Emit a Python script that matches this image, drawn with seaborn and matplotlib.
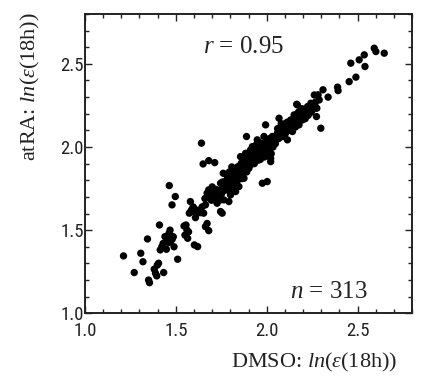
import numpy as np
import pandas as pd
import matplotlib
matplotlib.use('Agg')
import matplotlib.pyplot as plt
from matplotlib.ticker import MultipleLocator
from matplotlib import font_manager
import seaborn as sns

# ln(eps(18h)) per gene
dmso = [1.212, 1.271, 1.307, 1.319, 1.344, 1.350, 1.355, 1.381, 1.388, 1.405, 1.433, 1.410, 1.414, 1.423, 1.395, 1.398,
        1.440, 1.452, 1.460, 1.470, 1.475, 1.462, 1.468, 1.486, 1.490, 1.448, 1.430, 1.480, 1.455,
        1.510, 1.464, 1.479, 1.497,
        1.545, 1.556, 1.561, 1.565, 1.550, 1.570,
        1.574, 1.580, 1.585, 1.598, 1.617, 1.635, 1.653, 1.608, 1.602, 1.620, 1.595,
        1.641, 1.650, 1.681, 1.714,
        1.663, 1.681, 1.672,
        1.663, 1.672, 1.681, 1.700, 1.690, 1.718, 1.709, 1.737, 1.746, 1.727, 1.746, 1.755, 1.764, 1.792, 1.700, 1.685, 1.720, 1.695,
        1.746, 1.761, 1.779, 1.801, 1.773, 1.801, 1.820, 1.838, 1.820, 1.842, 1.860, 1.856, 1.884, 1.875, 1.893, 1.902, 1.889, 1.866,
        1.847, 1.875, 1.829, 1.801, 1.760, 1.785, 1.810, 1.830, 1.850, 1.790, 1.770, 1.815, 1.855, 1.868, 1.880, 1.840, 1.795, 1.808,
        1.911, 1.930, 1.921, 1.939, 1.958, 1.948, 1.967, 1.976, 1.994, 1.985, 2.004, 2.004, 2.022, 2.022, 2.031, 2.041, 1.976, 2.003,
        1.994, 2.022,
        1.905, 1.915, 1.925, 1.935, 1.945, 1.950, 1.960, 1.965, 1.970, 1.980, 1.990, 1.995, 2.000, 2.010, 2.012, 2.015, 2.025, 2.030,
        2.035, 2.045, 1.898, 1.912, 1.940, 1.955, 1.985, 2.008, 2.018, 1.928, 1.962, 1.990,
        2.059, 2.074, 2.068, 2.087, 2.096, 2.105, 2.114, 2.123, 2.133, 2.142, 2.151, 2.160, 2.169, 2.165, 2.178, 2.188, 2.197, 2.206,
        2.215, 2.225, 2.234, 2.243, 2.252, 2.262, 2.276, 2.274, 2.298, 2.289, 2.169,
        2.050, 2.055, 2.065, 2.070, 2.080, 2.085, 2.090, 2.100, 2.102, 2.110, 2.118, 2.125, 2.130, 2.138, 2.145, 2.150, 2.155, 2.162,
        2.172, 2.180, 2.185, 2.192, 2.200, 2.210, 2.220, 2.230, 2.240, 2.248, 2.258, 2.268, 2.075, 2.095, 2.115, 2.135, 2.158, 2.175,
        2.195, 2.212, 2.228, 2.245, 2.060, 2.080, 2.108,
        2.283, 2.310, 2.338, 2.390, 2.393, 2.454, 2.491, 2.463, 2.509, 2.537, 2.541, 2.592, 2.601, 2.647,
        1.820, 1.835, 1.845, 1.858, 1.862, 1.872, 1.885, 1.890, 1.895, 1.908, 1.918, 1.932, 1.942, 1.952, 1.968, 1.978, 1.988, 1.998,
        2.006, 2.016, 2.028, 2.038, 2.048, 2.058, 2.068, 2.078, 2.088, 2.098, 2.108, 2.118, 2.128, 2.140, 2.148, 2.168, 2.182, 2.202,
        2.218, 2.238, 2.255, 2.265,
        1.600, 1.625, 1.645, 1.660, 1.675, 1.705, 1.715, 1.730, 1.740, 1.752, 1.758, 1.768, 1.782, 1.790, 1.798, 1.812, 1.825, 1.832,
        1.848, 1.865, 1.878, 1.892, 1.902, 1.915, 1.925, 1.938]

atra = [1.345, 1.245, 1.361, 1.310, 1.447, 1.200, 1.184, 1.265, 1.241, 1.301, 1.245, 1.531, 1.381, 1.401, 1.225, 1.290,
        1.461, 1.440, 1.425, 1.431, 1.465, 1.480, 1.500, 1.460, 1.400, 1.385, 1.420, 1.445, 1.455,
        1.325, 1.768, 1.652, 1.702,
        1.525, 1.531, 1.501, 1.451, 1.470, 1.490,
        1.602, 1.672, 1.620, 1.611, 1.602, 1.605, 1.602, 1.575, 1.411, 1.401, 1.640,
        2.023, 1.898, 1.918, 1.906,
        1.521, 1.497, 1.540,
        1.652, 1.722, 1.742, 1.742, 1.702, 1.722, 1.682, 1.702, 1.682, 1.662, 1.612, 1.602, 1.682, 1.672, 1.760, 1.720, 1.745, 1.680,
        1.782, 1.842, 1.832, 1.842, 1.792, 1.782, 1.762, 1.822, 1.862, 1.882, 1.902, 1.942, 1.962, 1.902, 1.926, 1.872, 2.063, 1.832,
        1.762, 1.812, 1.732, 1.712, 1.760, 1.810, 1.800, 1.840, 1.860, 1.770, 1.740, 1.830, 1.880, 1.870, 1.930, 1.800, 1.850, 1.880,
        1.982, 1.942, 2.002, 1.972, 2.002, 2.043, 1.952, 2.022, 1.992, 2.063, 2.043, 1.972, 1.932, 2.002, 2.063, 2.022, 1.782, 1.792,
        2.133, 1.912,
        1.940, 1.910, 1.960, 1.925, 1.990, 1.950, 1.970, 1.925, 1.990, 1.960, 2.020, 1.950, 2.000, 2.020, 1.980, 2.050, 1.960, 2.030,
        2.000, 2.050, 1.900, 1.955, 2.010, 1.980, 2.000, 1.955, 2.030, 1.990, 2.025, 1.975,
        2.083, 2.113, 2.173, 2.063, 2.093, 2.143, 2.043, 2.123, 2.163, 2.093, 2.193, 2.143, 2.173, 2.257, 2.133, 2.203, 2.163, 2.223,
        2.183, 2.243, 2.203, 2.263, 2.223, 2.313, 2.233, 2.183, 2.113, 2.283, 2.253,
        2.040, 2.070, 2.050, 2.090, 2.080, 2.110, 2.070, 2.110, 2.080, 2.120, 2.100, 2.150, 2.110, 2.140, 2.160, 2.130, 2.170, 2.190,
        2.150, 2.180, 2.160, 2.200, 2.190, 2.200, 2.220, 2.230, 2.240, 2.250, 2.260, 2.270, 2.060, 2.130, 2.150, 2.120, 2.120, 2.210,
        2.230, 2.170, 2.190, 2.210, 2.110, 2.140, 2.090,
        2.314, 2.344, 2.300, 2.360, 2.339, 2.393, 2.420, 2.504, 2.524, 2.554, 2.484, 2.594, 2.574, 2.564,
        1.790, 1.770, 1.830, 1.840, 1.810, 1.860, 1.880, 1.850, 1.920, 1.890, 1.930, 1.900, 1.950, 1.920, 1.940, 1.990, 1.940, 2.010,
        1.990, 2.000, 2.010, 2.040, 2.020, 2.060, 2.080, 2.100, 2.090, 2.070, 2.130, 2.130, 2.140, 2.110, 2.150, 2.160, 2.200, 2.210,
        2.200, 2.220, 2.240, 2.250,
        1.630, 1.620, 1.640, 1.690, 1.700, 1.710, 1.690, 1.720, 1.740, 1.720, 1.790, 1.770, 1.760, 1.800, 1.730, 1.760, 1.810, 1.790,
        1.850, 1.890, 1.890, 1.900, 1.920, 1.940, 1.900, 1.960]

x_ticks = [1.0, 1.5, 2.0, 2.5]
y_ticks = [1.0, 1.5, 2.0, 2.5]
r_text = '$r$ = 0.95'
n_text = '$n$ = 313'

df = pd.DataFrame({'DMSO': dmso, 'atRA': atra})

sns.set_style('ticks')
plt.rcParams['mathtext.fontset'] = 'custom'
plt.rcParams['mathtext.rm'] = 'Liberation Serif'
plt.rcParams['mathtext.it'] = 'Liberation Serif:italic'

# narrow sans for the tick numbers if there is one, else Liberation Sans
names = set(f.name for f in font_manager.fontManager.ttflist)
tick_font = 'Liberation Sans'
for cand in ['Liberation Sans Narrow', 'DejaVu Sans Condensed', 'Roboto Condensed', 'Open Sans Condensed']:
    if cand in names:
        tick_font = cand
        break
cond = [f for f in font_manager.fontManager.ttflist if f.name == 'DejaVu Sans' and f.stretch == 'condensed']
tick_stretch = 'normal'
if tick_font == 'Liberation Sans' and cond:
    tick_font = 'DejaVu Sans'
    tick_stretch = 'condensed'

fig = plt.figure(figsize=(4.22, 3.77), dpi=100)
ax = fig.add_axes([0.2014, 0.169, 0.775, 0.794])

sns.scatterplot(x='DMSO', y='atRA', data=df, color='black', s=28, edgecolor='none', ax=ax, legend=False)

ax.set_xlim(1.0, 2.8)
ax.set_ylim(1.0, 2.8)
ax.set_xticks(x_ticks)
ax.set_yticks(y_ticks)
ax.xaxis.set_minor_locator(MultipleLocator(0.1))
ax.yaxis.set_minor_locator(MultipleLocator(0.1))
ax.tick_params(which='both', direction='in', top=True, right=True, color='#222222', width=1.0)
ax.tick_params(which='major', length=5)
ax.tick_params(which='minor', length=3)
ax.tick_params(axis='x', pad=6)
ax.tick_params(axis='y', pad=1)
for lab in ax.get_xticklabels() + ax.get_yticklabels():
    lab.set_fontfamily(tick_font)
    lab.set_fontstretch(tick_stretch)
    lab.set_fontsize(13.5)
    lab.set_color('#222222')
for sp in ax.spines.values():
    sp.set_linewidth(1.4)
    sp.set_color('#222222')

ax.set_xlabel('DMSO: $ln$($\\varepsilon$(18h))', fontfamily='Liberation Serif', fontsize=16,
              ha='right', color='#222222')
ax.xaxis.set_label_coords(0.955, -0.125)
ax.set_ylabel('atRA: $ln$($\\varepsilon$(18h))', fontfamily='Liberation Serif', fontsize=16,
              loc='top', color='#222222')
ax.yaxis.set_label_coords(-0.13, 1.005)

ax.text(1.87, 2.566, r_text, ha='center', va='baseline', fontfamily='Liberation Serif', fontsize=18, color='#222222')
ax.text(2.34, 1.09, n_text, ha='center', va='baseline', fontfamily='Liberation Serif', fontsize=18, color='#222222')

fig.savefig('out.png', dpi=100)
